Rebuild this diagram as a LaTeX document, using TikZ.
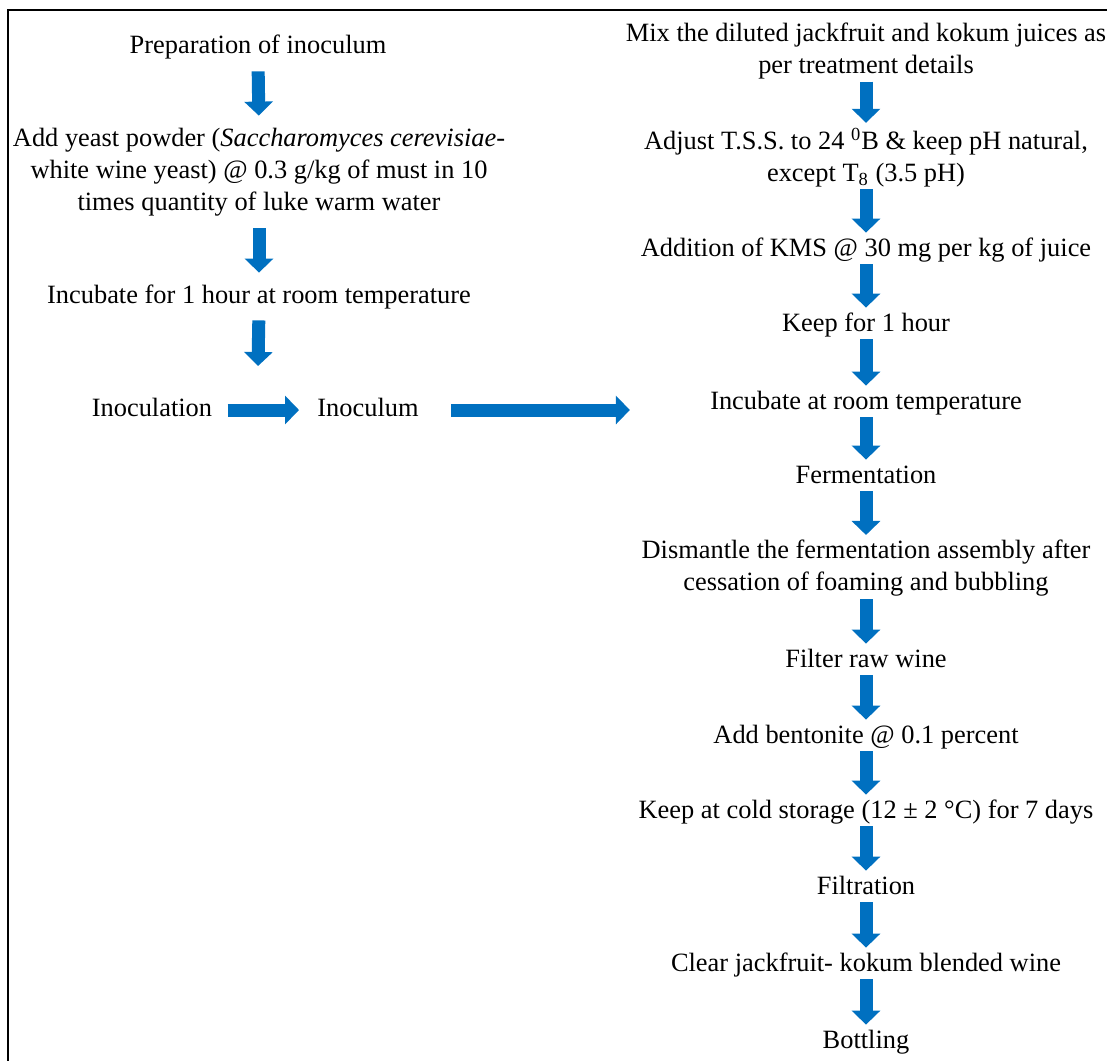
\documentclass[tikz,border=0pt]{standalone}
\usepackage{fontspec}
\setmainfont{Liberation Serif}
\usetikzlibrary{arrows.meta,positioning}
\definecolor{flowblue}{HTML}{0070C0}

\begin{document}
\begin{tikzpicture}[x=0.5pt,y=-0.5pt,
  every node/.style={font=\fontsize{13.2}{16}\selectfont},
  txt/.style={text height=9pt,text depth=3pt,inner sep=0pt},
  para/.style={align=center,inner sep=0pt},
  down/.style={flowblue,line width=6.5pt,-{Triangle[width=14pt,length=7pt]}},
  lcol/.style={down,shorten <=6pt,shorten >=6pt},
  rcol/.style={down,shorten <=1pt,shorten >=2.5pt}]
  \useasboundingbox (0,0) rectangle (1107,1061);
  \draw[line width=1pt] (1107,10) -- (8,10) -- (8,1061);

  % left column
  \node[txt] (l1) at (258,47) {Preparation of inoculum};
  \node[para] (l2) at (259,172) {Add yeast powder (\textit{Saccharomyces cerevisiae}-\\white wine yeast) @ 0.3 g/kg of must in 10\\times quantity of luke warm water};
  \node[txt] (l3) at (259,297) {Incubate for 1 hour at room temperature};
  \coordinate (l4) at (258,366);
  \node[txt] (l5) at (152,410) {Inoculation};
  \node[txt] (l6) at (368,410) {Inoculum};

  % right column
  \node[para] (r1) at (866,51) {Mix the diluted jackfruit and kokum juices as\\per treatment details};
  \node[para] (r2) at (866,157.5) {Adjust T.S.S. to 24 \textsuperscript{0}B \& keep pH natural,\\except T\textsubscript{8} (3.5 pH)};
  \node[txt] (r3) at (866,250) {Addition of KMS @ 30 mg per kg of juice};
  \node[txt] (r4) at (866,325) {Keep for 1 hour};
  \node[txt] (r5) at (866,403) {Incubate at room temperature};
  \node[txt] (r6) at (866,477) {Fermentation};
  \node[para] (r7) at (866,568.5) {Dismantle the fermentation assembly after\\cessation of foaming and bubbling};
  \node[txt] (r8) at (866,661) {Filter raw wine};
  \node[txt] (r9) at (866,737) {Add bentonite @ 0.1 percent};
  \node[txt] (r10) at (866,812) {Keep at cold storage (12 ± 2 °C) for 7 days};
  \node[txt] (r11) at (866,888) {Filtration};
  \node[txt] (r12) at (866,965) {Clear jackfruit- kokum blended wine};
  \node[txt] (r13) at (866,1042) {Bottling};

  \draw[lcol] (l1.south) -- (l2.north);
  \draw[lcol] (l2.south) -- (l3.north);
  \draw[down,shorten <=5.5pt] (l3.south) -- (l4);
  \draw[down,shorten <=7.5pt,shorten >=9pt] (l5.east) -- (l6.west);
  \draw[down,shorten <=16pt,shorten >=40pt] (l6.east) -- (l6.east -| r5.west);

  \draw[rcol] (r1.south) -- (r2.north);
  \draw[rcol] (r2.south) -- (r3.north);
  \draw[rcol] (r3.south) -- (r4.north);
  \draw[rcol] (r4.south) -- (r5.north);
  \draw[rcol] (r5.south) -- (r6.north);
  \draw[rcol] (r6.south) -- (r7.north);
  \draw[rcol] (r7.south) -- (r8.north);
  \draw[rcol] (r8.south) -- (r9.north);
  \draw[rcol] (r9.south) -- (r10.north);
  \draw[rcol] (r10.south) -- (r11.north);
  \draw[rcol] (r11.south) -- (r12.north);
  \draw[rcol] (r12.south) -- (r13.north);

\end{tikzpicture}
\end{document}
